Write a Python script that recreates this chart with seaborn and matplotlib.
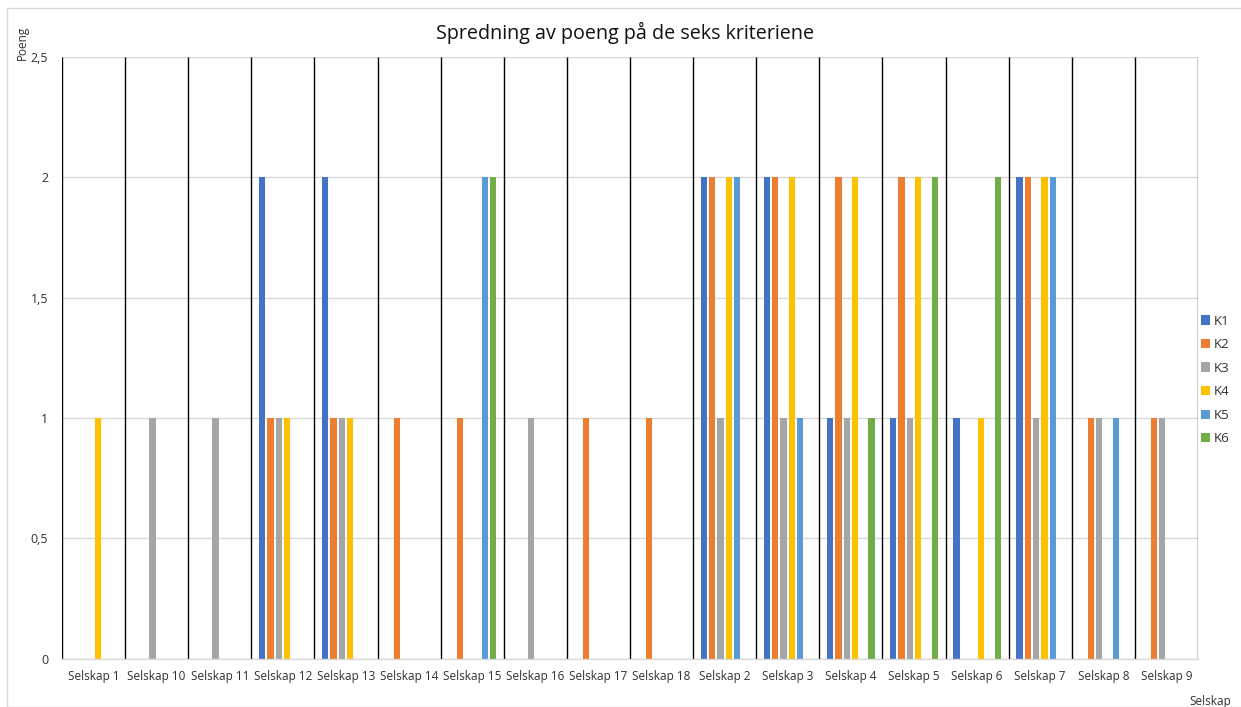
import numpy as np
import pandas as pd
import matplotlib
matplotlib.use("Agg")
import matplotlib.pyplot as plt
from matplotlib.patches import Rectangle, Patch
from matplotlib.ticker import FuncFormatter
import seaborn as sns

# Scores per company (0 = no points)
companies = ["Selskap 1", "Selskap 10", "Selskap 11", "Selskap 12", "Selskap 13",
             "Selskap 14", "Selskap 15", "Selskap 16", "Selskap 17", "Selskap 18",
             "Selskap 2", "Selskap 3", "Selskap 4", "Selskap 5", "Selskap 6",
             "Selskap 7", "Selskap 8", "Selskap 9"]
k1 = [0, 0, 0, 2, 2, 0, 0, 0, 0, 0, 2, 2, 1, 1, 1, 2, 0, 0]
k2 = [0, 0, 0, 1, 1, 1, 1, 0, 1, 1, 2, 2, 2, 2, 0, 2, 1, 1]
k3 = [0, 1, 1, 1, 1, 0, 0, 1, 0, 0, 1, 1, 1, 1, 0, 1, 1, 1]
k4 = [1, 0, 0, 1, 1, 0, 0, 0, 0, 0, 2, 2, 2, 2, 1, 2, 0, 0]
k5 = [0, 0, 0, 0, 0, 0, 2, 0, 0, 0, 2, 1, 0, 0, 0, 2, 1, 0]
k6 = [0, 0, 0, 0, 0, 0, 2, 0, 0, 0, 0, 0, 1, 2, 2, 0, 0, 0]
criteria = ["K1", "K2", "K3", "K4", "K5", "K6"]
colors = ["#4472C4", "#ED7D31", "#A5A5A5", "#FFC000", "#5B9BD5", "#70AD47"]

series = [k1, k2, k3, k4, k5, k6]
df = pd.DataFrame({
    "Selskap": np.tile(companies, len(criteria)),
    "Kriterium": np.repeat(criteria, len(companies)),
    "Poeng": np.concatenate(series),
})

sns.set_theme(style="white")
plt.rcParams["font.family"] = ["Open Sans", "DejaVu Sans"]

W, H = 1241, 707
fig = plt.figure(figsize=(W / 100, H / 100), dpi=100)
ax = fig.add_axes([62 / W, 1 - 658.7 / H, 1136 / W, 601.7 / H])

group_w = 0.789
sns.barplot(data=df, x="Selskap", y="Poeng", hue="Kriterium", order=companies,
            hue_order=criteria, palette=colors, width=group_w, dodge=True,
            errorbar=None, saturation=1, legend=False, ax=ax)

# Narrow each bar, leaving a small gap between neighbours
bar_w = 0.10
for p in ax.patches:
    cx = p.get_x() + p.get_width() / 2
    p.set_width(bar_w)
    p.set_x(cx - bar_w / 2)
    p.set_linewidth(0)

ax.set_xlim(-0.5, len(companies) - 0.5)
ax.set_ylim(0, 2.5)
ax.set_yticks(np.arange(0, 2.51, 0.5))
ax.yaxis.set_major_formatter(FuncFormatter(lambda v, _: f"{v:g}".replace(".", ",")))

ax.yaxis.grid(True, color="#d9d9d9", linewidth=1)
ax.set_axisbelow(True)
ax.vlines(np.arange(-0.5, len(companies)), 0, 2.5, color="black", linewidth=1, zorder=1)

for s in ["top", "right", "left"]:
    ax.spines[s].set_visible(False)
ax.spines["bottom"].set_color("#d9d9d9")
ax.spines["bottom"].set_linewidth(1)

ax.tick_params(axis="both", length=0, colors="#303030")
ax.tick_params(axis="x", pad=8, labelsize=8.5)
ax.tick_params(axis="y", pad=10, labelsize=9)
ax.set_xlabel("")
ax.set_ylabel("")

fig.text(0.5035, 1 - 33 / H, "Spredning av poeng på de seks kriteriene",
         ha="center", va="center", fontsize=14.2, color="#111111")
fig.text(22 / W, 1 - 43 / H, "Poeng", rotation=90, ha="center", va="center",
         fontsize=8.5, color="#303030")
fig.text(1210 / W, 1 - 701 / H, "Selskap", ha="center", va="center",
         fontsize=8.5, color="#303030")

handles = [Patch(facecolor=c, edgecolor="none") for c in colors]
fig.legend(handles, criteria, loc="center left", bbox_to_anchor=(1201 / W, 1 - 380 / H),
           frameon=False, fontsize=9.5, handlelength=0.7, handleheight=0.7,
           handletextpad=0.3, labelspacing=0.8, borderpad=0, borderaxespad=0,
           labelcolor="#303030")

fig.patches.append(Rectangle((7 / W, 0), 1, 1 - 8 / H, transform=fig.transFigure,
                             fill=False, edgecolor="#d9d9d9", linewidth=1))

fig.savefig("out.png", dpi=100, facecolor="white")
